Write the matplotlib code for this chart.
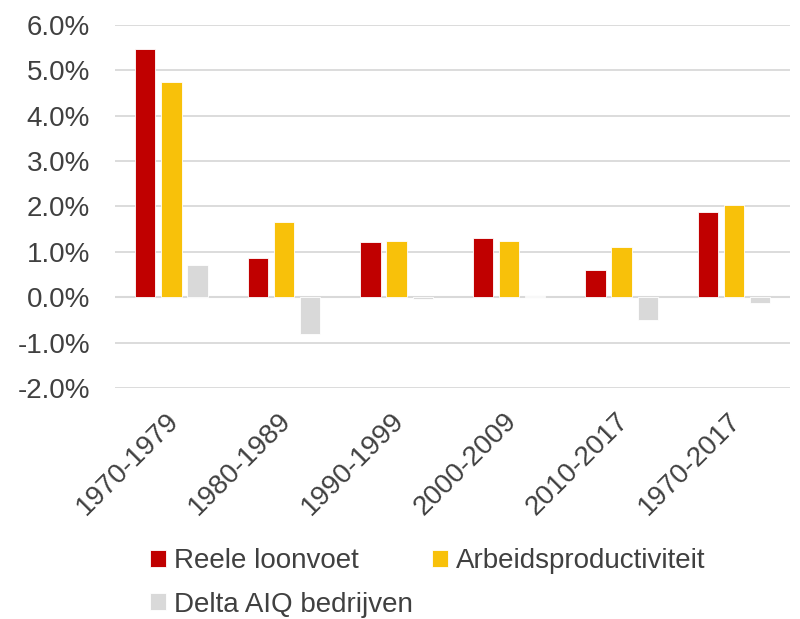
import matplotlib
matplotlib.use("Agg")
import matplotlib.pyplot as plt
import matplotlib.transforms as mtransforms
import numpy as np
from matplotlib.ticker import FuncFormatter

categories = ["1970-1979", "1980-1989", "1990-1999", "2000-2009", "2010-2017", "1970-2017"]
reele_loonvoet = [5.46, 0.86, 1.21, 1.30, 0.61, 1.88]
arbeidsproductiviteit = [4.73, 1.66, 1.23, 1.25, 1.10, 2.03]
delta_aiq = [0.71, -0.81, -0.04, 0.03, -0.51, -0.12]
series_names = ["Reele loonvoet", "Arbeidsproductiviteit", "Delta AIQ bedrijven"]
colors = ["#C00000", "#F8C10A", "#D9D9D9"]
yticks = [-2, -1, 0, 1, 2, 3, 4, 5, 6]

plt.rcParams['font.family'] = ['Liberation Sans', 'DejaVu Sans']
text_color = "#404040"

fig = plt.figure(figsize=(8, 6.19), dpi=100)
ax = fig.add_axes([0.144, 0.373, 0.844, 0.587])

x = np.arange(len(categories))
w = 0.18
off = 0.232
handles = []
for i, (vals, name, c) in enumerate(zip([reele_loonvoet, arbeidsproductiviteit, delta_aiq], series_names, colors)):
    b = ax.bar(x + (i - 1) * off, vals, width=w, color=c, label=name,
               edgecolor="white", linewidth=0.6, zorder=3)
    handles.append(b)

ax.set_xlim(-0.5, len(categories) - 0.5)
ax.set_ylim(-2, 6)
ax.set_yticks(yticks)
ax.yaxis.set_major_formatter(FuncFormatter(lambda v, p: f"{v:.1f}%"))
ax.grid(axis="y", color="#D9D9D9", linewidth=1.3, zorder=0)
ax.axhline(0, color="#D9D9D9", linewidth=1.5, zorder=2)
for s in ax.spines.values():
    s.set_visible(False)
ax.tick_params(axis="both", length=0, labelsize=20, colors=text_color)
ax.tick_params(axis="y", pad=18)
ax.set_xticks(x)
ax.set_xticklabels(categories, rotation=45, ha="right", rotation_mode="anchor")
ax.tick_params(axis="x", pad=10)
shift = mtransforms.ScaledTranslation(-6 / 100, -6 / 100, fig.dpi_scale_trans)
for lbl in ax.get_xticklabels():
    lbl.set_transform(lbl.get_transform() + shift)

order = [0, 2, 1]
leg = fig.legend([handles[i] for i in order], [series_names[i] for i in order],
                 loc="upper left", bbox_to_anchor=(0.188, 0.114),
                 ncol=2, frameon=False, fontsize=20, handlelength=0.55, handleheight=0.55,
                 handletextpad=0.3, columnspacing=0.7, labelspacing=0.62,
                 borderaxespad=0, borderpad=0)
for t in leg.get_texts():
    t.set_color(text_color)

fig.savefig("out.png", dpi=100)
